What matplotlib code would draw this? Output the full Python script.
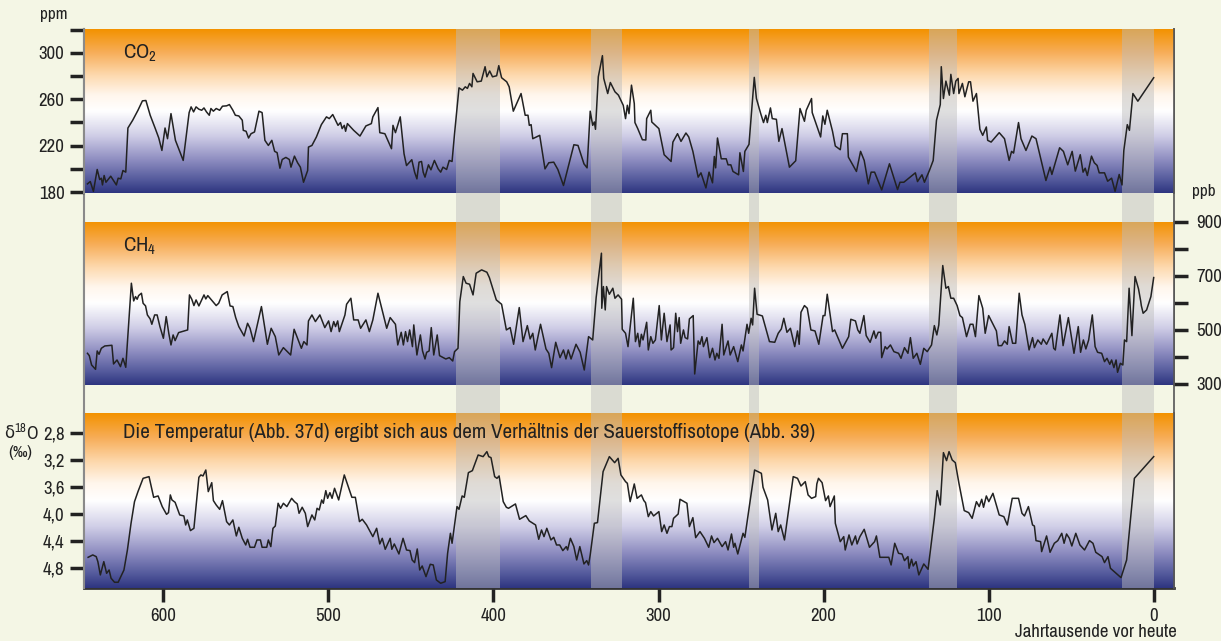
import matplotlib
matplotlib.use("Agg")
import matplotlib.pyplot as plt
import matplotlib.font_manager as fm
import numpy as np
from matplotlib.colors import LinearSegmentedColormap

# the original uses a condensed sans; take a narrow one if installed
narrow = None
for f in fm.fontManager.ttflist:
    if 'Narrow' in f.name or 'Condensed' in f.name:
        narrow = f.name
        break
dejavu_cond = any(f.name == 'DejaVu Sans' and 'condensed' in str(f.stretch) for f in fm.fontManager.ttflist)
if narrow:
    plt.rcParams['font.family'] = [narrow, 'DejaVu Sans']
elif dejavu_cond:
    plt.rcParams['font.family'] = ['DejaVu Sans']
    plt.rcParams['font.stretch'] = 'condensed'
else:
    plt.rcParams['font.family'] = ['Roboto', 'DejaVu Sans']

# interglacial bands (ky before present)
band_start = [423, 341, 245, 136, 19]
band_end = [396, 322, 239, 119, 0]

x_ticks = [600, 500, 400, 300, 200, 100, 0]

# CO2 (ppm)
co2_age = [646.0, 644.3, 642.4, 640.1, 638.6, 637.6, 636.9, 635.9, 634.8, 632.9,
           631.9, 630.2, 628.5, 627.4, 625.8, 624.5, 622.8, 621.5, 618.6, 615.4,
           612.7, 610.6, 608.0, 604.9, 602.8, 600.9, 599.0, 597.5, 595.4, 592.7,
           588.0, 585.7, 584.4, 583.2, 581.7, 580.2, 578.5, 576.8, 575.4, 573.9,
           572.2, 571.2, 569.7, 568.0, 565.9, 564.2, 561.7, 560.0, 557.9, 556.4,
           554.3, 552.2, 551.6, 549.9, 548.4, 546.9, 544.8, 542.1, 540.2, 538.5,
           536.4, 534.3, 532.6, 531.1, 529.4, 528.0, 525.8, 523.7, 522.7, 520.6,
           518.7, 517.0, 515.1, 512.6, 512.1, 510.0, 507.3, 504.3, 501.2, 499.5,
           497.4, 495.7, 494.2, 492.7, 491.7, 490.4, 489.6, 488.5, 484.7, 480.9,
           477.3, 474.0, 473.1, 470.0, 468.9, 465.8, 461.8, 460.9, 459.4, 456.5,
           454.2, 452.7, 449.5, 447.8, 446.4, 445.1, 443.6, 442.6, 441.5, 439.4,
           437.9, 435.8, 433.5, 432.0, 430.6, 428.4, 426.8, 425.1, 423.6, 420.9,
           418.8, 417.1, 415.8, 414.5, 413.1, 412.4, 409.9, 407.4, 405.1, 404.0,
           402.3, 400.6, 398.1, 396.8, 395.1, 392.0, 390.5, 388.0, 383.3, 380.8,
           379.1, 378.3, 377.2, 376.2, 372.0, 368.8, 366.5, 363.5, 361.0, 357.6,
           351.3, 348.8, 345.2, 343.3, 341.4, 339.9, 338.9, 338.2, 336.5, 334.0,
           333.2, 330.8, 329.2, 326.4, 324.3, 321.4,
           320.0, 318.9, 317.9, 316.4, 314.7, 314.3, 312.6, 309.8, 307.7, 307.2,
           304.7, 304.1, 299.8, 296.6, 292.4, 291.3, 288.5, 286.4, 283.4, 281.7,
           279.2, 276.0, 274.3, 271.3, 269.4, 267.3, 266.2, 265.4, 264.3, 262.0,
           259.0, 257.9, 256.2, 254.9, 251.5, 250.7, 248.6, 247.7, 245.2, 242.0,
           240.7, 238.1, 236.4, 235.0, 234.1, 232.2, 231.1, 228.6, 227.1, 225.2,
           220.7, 216.9, 214.3, 211.6, 210.5, 207.3, 206.9, 204.1, 201.8, 200.5,
           199.2, 197.8, 194.6, 192.9, 189.9, 188.6, 185.6, 185.0, 180.1, 177.6,
           175.4, 172.9, 171.2, 169.1, 164.8, 160.1, 155.2, 153.7, 151.4, 144.4,
           143.1, 140.4, 138.9, 135.9, 133.6, 131.6, 129.3, 128.7, 127.4, 125.9,
           123.8, 122.9, 121.2, 119.9, 118.5, 118.0, 115.9, 114.4, 112.1, 111.0,
           109.5, 107.4, 105.3, 103.6, 101.4, 100.6, 98.5, 93.6, 90.4, 87.6,
           86.1, 84.9, 81.9, 80.4, 77.4, 73.8, 71.3, 65.3, 62.8, 61.7,
           57.0, 54.7, 52.1, 49.4, 47.5, 44.5, 42.8, 41.5, 40.2, 37.7,
           36.0, 34.3, 33.0, 29.8, 27.9, 25.5, 23.4, 20.9, 19.2, 18.1,
           16.0, 14.7, 12.6, 9.6, 0.0]
co2_ppm = [187.1, 189.1, 180.7, 199.5, 190.8, 192.0, 186.2, 194.3, 188.5, 192.0,
           193.7, 190.0, 186.2, 192.0, 191.4, 198.6, 197.2, 235.2, 241.9, 250.5,
           258.6, 258.9, 246.2, 234.7, 226.6, 215.9, 235.2, 226.0, 247.6, 224.6,
           207.3, 233.2, 248.5, 253.4, 249.1, 253.4, 251.4, 250.5, 252.5, 249.1,
           246.2, 252.0, 249.7, 252.0, 250.5, 254.0, 254.3, 255.4, 250.5, 246.2,
           245.6, 241.9, 233.2, 232.4, 226.6, 230.3, 231.8, 249.7, 248.5, 224.6,
           220.2, 224.6, 215.1, 214.0, 200.6, 208.1, 209.9, 208.1, 201.5, 211.0,
           205.3, 201.5, 188.5, 198.6, 218.8, 220.2, 227.5, 238.1, 244.8, 243.3,
           246.8, 241.9, 237.5, 239.9, 234.7, 237.5, 232.4, 239.0, 233.2, 228.3,
           237.0, 239.0, 244.8, 252.8, 231.2, 230.3, 217.4, 237.5, 231.2, 244.8,
           213.0, 202.9, 207.9, 197.2, 191.4, 205.8, 206.4, 197.2, 192.9, 203.5,
           199.2, 207.3, 200.0, 197.2, 201.5, 199.5, 207.3, 206.4, 230.3, 269.8,
           267.8, 270.7, 269.3, 273.6, 270.7, 282.2, 275.0, 275.6, 288.0, 279.3,
           284.3, 279.3, 280.2, 288.9, 278.5, 275.0, 270.7, 249.7, 264.9, 246.2,
           246.2, 237.5, 238.1, 226.0, 228.9, 200.0, 205.3, 205.8, 199.5, 185.7,
           220.8, 220.2, 204.4, 200.9, 249.7, 237.5, 240.4, 234.1, 279.3, 297.5,
           277.9, 264.9, 274.4, 266.4, 263.5, 254.8,
           243.3, 254.8, 247.6, 272.1, 256.3, 239.9, 234.7, 225.1, 224.9, 243.3,
           250.5, 240.4, 234.7, 212.2, 206.4, 223.1, 230.3, 223.7, 230.9, 227.5,
           215.1, 192.9, 196.6, 183.6, 197.2, 188.0, 210.7, 200.9, 226.6, 208.7,
           208.7, 203.5, 203.5, 197.8, 194.9, 213.9, 197.8, 215.1, 221.1, 278.8,
           260.6, 247.6, 239.9, 246.2, 239.9, 252.5, 243.3, 242.7, 223.7, 234.7,
           201.5, 207.0, 252.0, 241.0, 250.5, 260.6, 248.5, 237.0, 227.5, 245.6,
           238.4, 250.5, 232.4, 219.7, 216.5, 230.3, 230.3, 210.2, 197.8, 215.1,
           207.3, 187.1, 197.2, 197.2, 181.9, 204.4, 182.2, 188.5, 188.5, 196.6,
           189.1, 194.9, 188.5, 198.6, 207.3, 241.9, 255.4, 288.0, 260.6, 275.6,
           263.5, 281.4, 264.9, 275.6, 277.9, 264.9, 273.6, 262.1, 275.0, 275.0,
           258.3, 264.9, 234.1, 228.9, 236.1, 224.6, 223.1, 231.2, 226.0, 207.3,
           215.1, 213.6, 239.9, 226.0, 215.9, 228.3, 226.0, 190.0, 201.5, 195.2,
           218.2, 215.1, 203.5, 215.1, 198.1, 212.2, 197.2, 200.6, 194.3, 211.0,
           205.3, 203.0, 196.6, 196.6, 189.4, 192.0, 180.7, 195.2, 186.2, 215.9,
           238.1, 233.2, 264.9, 258.3, 278.5]

# CH4 (ppb)
ch4_age = [646.0, 644.9, 643.5, 641.1, 640.1, 639.0, 637.6, 635.5, 631.2, 630.2,
           628.1, 626.0, 624.5, 622.8, 619.4, 618.0, 616.9, 615.9, 615.0, 613.3,
           612.3, 610.8, 609.7, 608.0, 607.0, 605.3, 603.8, 602.1, 600.0, 598.3,
           596.7, 595.4, 594.1, 592.9, 590.8, 585.3, 584.2, 582.8, 581.5, 580.2,
           578.5, 575.4, 574.3, 573.1, 568.0, 566.5, 564.4, 561.3, 559.6, 557.9,
           556.2, 554.3, 551.1, 549.0, 547.5, 545.4, 540.6, 537.0, 534.7, 532.2,
           530.1, 527.3, 522.9, 520.8, 516.4, 514.9, 513.0, 512.1, 510.0, 507.9,
           505.2, 502.2, 499.9, 498.4, 496.8, 495.7, 494.4, 493.4, 490.0, 489.0,
           486.4, 484.7, 482.0, 480.5, 477.3, 475.2, 473.1, 470.0, 464.7, 462.6,
           459.4, 458.0, 455.9, 454.6, 453.3, 452.1, 450.8, 449.1, 448.3, 446.4,
           444.3, 443.0, 441.5, 440.5, 439.0, 437.7, 436.2, 434.1, 432.7, 428.9,
           426.8, 424.7, 423.6, 421.5, 420.4, 418.3, 416.6, 414.5, 412.4, 410.5,
           407.2, 404.0, 402.5, 398.3, 395.1, 392.2, 389.9, 387.8, 384.4, 382.1,
           379.5, 377.8, 376.2, 374.7, 371.5, 368.2, 366.5, 364.8, 362.3, 359.7,
           357.6, 356.1, 354.7, 353.0, 350.0, 347.5, 345.0, 342.4, 339.9, 337.8,
           334.6, 334.4, 333.4, 332.3, 331.5, 329.8, 327.7, 326.4, 324.5, 322.4,
           322.0,
           320.0, 318.5, 315.3, 314.0, 312.6, 311.5, 310.4, 309.4, 307.2, 306.2,
           304.7, 303.4, 301.9, 299.6, 298.3, 296.6, 294.9, 293.0, 292.4, 290.9,
           289.6, 288.5, 287.5, 286.6, 284.9, 283.9, 282.4, 281.3, 279.0, 278.1,
           276.0, 274.9, 273.7, 272.8, 270.7, 269.0, 267.3, 265.8, 264.7, 263.4,
           261.5, 260.5, 257.9, 256.6, 254.5, 252.0, 249.8, 248.8, 246.4, 245.4,
           243.9, 243.0, 241.8, 240.3, 237.1, 232.8, 229.6, 227.5, 225.6, 224.1,
           222.2, 220.1, 217.5, 215.8, 214.8, 213.7, 211.6, 209.9, 207.7, 205.2,
           202.9, 200.3, 199.2, 197.8, 194.6, 193.3, 188.6, 184.8, 183.5, 180.7,
           179.3, 178.0, 175.6, 174.2, 171.8, 169.5, 168.4, 166.9, 165.4, 164.8,
           162.7, 161.6, 159.5, 157.4, 154.6, 153.1, 151.0, 148.9, 147.4, 145.7,
           143.5, 141.4, 139.3, 137.2, 134.6, 132.9, 131.4, 130.2, 127.8, 125.9,
           124.4, 122.9, 121.2, 119.1, 117.4, 115.9, 113.4, 111.2, 109.5, 108.0,
           105.9, 103.6, 102.1, 100.0, 95.3, 94.2, 92.1, 90.4, 88.7, 87.6,
           85.5, 83.6, 81.5, 79.8, 78.1, 75.5, 73.4, 72.3, 70.2, 68.1,
           67.0, 64.9, 61.7, 60.6, 59.6, 56.8, 54.9, 51.7, 48.3, 45.7,
           44.3, 42.6, 41.1, 39.4, 37.2, 35.5, 34.0, 31.5, 29.8, 28.3,
           26.6, 25.5, 24.1, 22.8, 21.9, 20.2, 18.7, 17.7, 16.4, 14.9,
           13.2, 11.3, 9.2, 7.9, 7.5, 6.4, 4.3, 1.7, 0.0]
ch4_ppb = [413.1, 404.5, 369.9, 353.9, 421.7, 409.4, 431.6, 440.2, 442.7, 373.6,
           388.4, 363.8, 394.6, 361.3, 672.0, 606.6, 622.6, 612.8, 626.3, 635.0,
           598.0, 588.1, 554.8, 540.1, 520.3, 554.8, 554.8, 511.7, 468.6, 548.7,
           485.8, 443.9, 480.9, 459.9, 489.5, 499.4, 628.8, 612.8, 589.4, 610.3,
           588.1, 628.8, 614.0, 626.3, 589.4, 598.0, 628.8, 641.1, 588.1, 585.7,
           545.0, 511.7, 477.2, 524.0, 505.5, 456.3, 585.7, 446.4, 505.5, 474.7,
           406.9, 434.0, 406.9, 501.8, 431.6, 456.3, 443.9, 532.7, 554.8, 530.2,
           554.8, 508.0, 532.7, 493.2, 530.2, 511.7, 532.7, 493.2, 554.8, 594.3,
           616.5, 536.4, 536.4, 505.5, 536.4, 493.2, 536.4, 635.0, 505.5, 545.0,
           520.3, 443.9, 490.7, 443.9, 493.2, 456.3, 499.4, 437.7, 517.9, 406.9,
           480.9, 421.7, 392.1, 416.8, 421.7, 508.0, 406.9, 480.9, 404.5, 392.1,
           397.1, 384.7, 419.2, 431.6, 604.1, 696.6, 672.0, 668.3, 628.8, 708.9,
           721.3, 712.6, 692.9, 610.3, 594.3, 499.4, 508.0, 446.4, 582.0, 456.3,
           515.4, 466.1, 487.0, 425.4, 520.3, 429.1, 413.1, 360.1, 453.8, 397.1,
           425.4, 392.1, 425.4, 392.1, 446.4, 416.8, 351.4, 474.7, 462.4, 619.0,
           782.9, 579.5, 659.6, 573.3, 659.6, 631.3, 653.5, 616.5, 628.8, 612.8,
           501.8,
           487.0, 437.7, 616.5, 456.3, 487.0, 437.7, 483.3, 462.4, 527.7, 425.4,
           474.7, 450.1, 462.4, 589.4, 462.4, 561.0, 456.3, 517.9, 425.4, 434.0,
           561.0, 493.2, 545.0, 450.1, 499.4, 471.0, 466.1, 540.1, 552.4, 336.7,
           458.7, 446.4, 474.7, 437.7, 471.0, 397.1, 431.6, 388.4, 413.1, 394.6,
           520.3, 406.9, 458.7, 406.9, 437.7, 382.3, 443.9, 421.7, 520.3, 487.0,
           542.5, 517.9, 653.5, 557.3, 551.1, 456.3, 453.8, 487.0, 503.1, 542.5,
           490.7, 505.5, 437.7, 495.7, 446.4, 564.7, 589.4, 579.5, 499.4, 495.7,
           446.4, 552.4, 552.4, 631.3, 493.2, 499.4, 431.6, 474.7, 538.8, 532.7,
           499.4, 487.0, 552.4, 478.4, 453.8, 495.7, 468.6, 490.7, 490.7, 397.1,
           437.7, 429.1, 443.9, 419.2, 413.1, 394.6, 434.0, 413.1, 471.0, 394.6,
           413.1, 372.4, 431.6, 419.2, 443.9, 515.4, 480.9, 517.9, 737.3, 653.5,
           659.6, 616.5, 616.5, 589.4, 552.4, 545.0, 474.7, 520.3, 520.3, 474.7,
           626.3, 579.5, 487.0, 552.4, 495.7, 441.4, 441.4, 458.7, 446.4, 511.7,
           450.1, 450.1, 635.0, 554.8, 520.3, 425.4, 471.0, 434.0, 462.4, 446.4,
           466.1, 446.4, 487.0, 431.6, 425.4, 554.8, 441.4, 545.0, 413.1, 511.7,
           416.8, 462.4, 429.1, 462.4, 554.8, 437.7, 416.8, 413.1, 382.3, 394.6,
           372.4, 388.4, 360.1, 388.4, 342.8, 376.1, 369.9, 462.4, 456.3, 653.5,
           478.4, 696.6, 651.0, 606.6, 589.4, 561.0, 573.3, 622.6, 692.9]

# delta 18O (permil)
d18o_age = [645.6, 642.8, 640.7, 639.7, 638.2, 636.1, 634.4, 632.9, 631.7, 629.6,
            627.4, 623.9, 621.8, 619.6, 617.5, 615.4, 612.3, 608.7, 605.9, 603.2,
            600.7, 598.1, 596.9, 595.8, 594.8, 592.9, 590.1, 587.6, 586.5, 585.5,
            583.6, 581.5, 578.5, 577.3, 576.0, 574.3, 572.8, 570.7, 569.7, 568.0,
            565.9, 564.2, 561.7, 560.0, 557.9, 555.8, 554.3, 552.2, 550.1, 549.0,
            547.5, 544.8, 543.3, 541.2, 540.2, 537.4, 536.4, 534.9, 533.6, 532.2,
            530.5, 529.0, 527.3, 525.2, 522.3, 520.6, 518.9, 517.8, 515.9, 514.0,
            512.6, 510.0, 508.3, 506.9, 505.6, 504.1, 503.1, 501.6, 500.5, 499.1,
            497.8, 496.3, 493.8, 490.4, 487.3, 485.8, 483.7, 481.2, 479.5, 476.9,
            473.1, 470.8, 468.9, 467.4, 465.6, 462.6, 461.6, 460.1, 457.3, 454.8,
            452.7, 450.6, 449.3, 447.8, 446.2, 444.7, 443.2, 440.9, 438.3, 436.5,
            434.6, 432.0, 429.3, 427.8, 426.1, 425.1, 423.2, 422.1, 420.9, 419.0,
            417.7, 415.2, 412.8, 409.3, 406.3, 404.0, 402.9, 401.5, 399.3, 397.9,
            396.6, 394.1, 392.2, 390.9, 386.7, 384.2, 380.4, 378.3, 374.5, 372.6,
            370.9, 369.4, 367.7, 365.2, 363.5, 361.8, 359.9, 358.0, 355.9, 355.1,
            353.4, 351.3, 349.6, 347.7, 345.2, 343.5, 342.4, 341.4, 338.9, 337.0,
            333.6, 329.8, 326.6, 324.5, 322.8,
            320.0, 318.9, 317.2, 314.7, 313.0, 310.4, 308.9, 307.9, 306.2, 304.7,
            303.0, 299.8, 298.1, 296.6, 294.9, 293.4, 291.9, 290.9, 288.1, 287.0,
            282.8, 281.3, 279.2, 277.5, 274.9, 272.2, 269.6, 267.9, 266.4, 264.3,
            261.5, 259.4, 257.9, 255.8, 254.5, 253.7, 252.0, 248.8, 247.7, 241.8,
            237.7, 236.7, 233.9, 231.3, 229.0, 227.5, 226.0, 223.7, 218.4, 215.8,
            213.7, 211.1, 209.4, 207.3, 204.8, 204.1, 203.1, 200.9, 198.8, 197.1,
            196.1, 193.5, 192.9, 189.9, 187.8, 186.9, 184.6, 182.9, 180.7, 179.7,
            178.0, 175.4, 172.2, 169.1, 168.0, 165.9, 160.5, 159.1, 156.9, 154.6,
            152.5, 151.0, 148.9, 148.2, 146.7, 145.7, 144.0, 142.3, 139.3, 136.7,
            132.9, 131.2, 129.3, 127.4, 125.5, 124.0, 122.1, 120.2, 118.0, 114.8,
            112.1, 110.0, 107.4, 105.7, 104.2, 103.1, 101.4, 99.9, 97.4, 93.6,
            90.8, 88.7, 85.7, 81.9, 79.8, 78.3, 75.9, 73.4, 72.3, 71.3,
            68.5, 67.9, 64.9, 62.8, 60.2, 58.1, 55.7, 54.3, 52.8, 51.1,
            49.6, 47.2, 44.7, 41.9, 38.9, 36.8, 35.1, 31.3, 29.8, 27.7,
            26.2, 22.8, 19.8, 16.4, 11.7, 0.0]
d18o_val = [4.638, 4.603, 4.628, 4.702, 4.898, 4.702, 4.874, 4.825, 4.947, 5.006,
            5.006, 4.825, 4.530, 4.136, 3.817, 3.669, 3.473, 3.448, 3.753, 3.733,
            3.890, 4.004, 3.979, 3.718, 3.792, 3.827, 4.013, 4.028, 4.161, 4.087,
            4.244, 4.210, 3.458, 3.423, 3.438, 3.350, 3.669, 3.537, 3.802, 3.866,
            3.930, 3.802, 4.112, 4.161, 4.087, 4.323, 4.195, 4.358, 4.456, 4.372,
            4.490, 4.490, 4.382, 4.382, 4.490, 4.490, 4.382, 4.480, 4.210, 4.176,
            3.841, 3.915, 3.841, 3.890, 3.768, 3.817, 3.851, 3.989, 3.900, 3.989,
            4.185, 4.013, 4.087, 3.915, 3.940, 3.792, 3.841, 3.655, 3.768, 3.684,
            3.768, 3.620, 3.792, 3.423, 3.645, 3.753, 3.753, 4.112, 4.077, 4.161,
            4.333, 4.210, 4.441, 4.358, 4.520, 4.358, 4.520, 4.441, 4.589, 4.358,
            4.530, 4.539, 4.677, 4.716, 4.515, 4.825, 4.766, 4.923, 4.741, 4.751,
            4.972, 5.021, 4.997, 4.579, 4.284, 4.431, 4.087, 3.890, 3.930, 3.733,
            3.753, 3.389, 3.360, 3.129, 3.153, 3.079, 3.153, 3.168, 3.448, 3.473,
            3.438, 3.817, 3.900, 3.915, 3.851, 4.077, 4.023, 4.102, 4.161, 4.372,
            4.235, 4.333, 4.210, 4.382, 4.343, 4.456, 4.456, 4.539, 4.480, 4.530,
            4.358, 4.480, 4.677, 4.480, 4.736, 4.687, 4.751, 4.603, 4.136, 4.126,
            3.374, 3.153, 3.242, 3.178, 3.423,
            3.522, 3.546, 3.817, 3.556, 3.768, 3.718, 3.802, 3.831, 4.038, 3.964,
            4.028, 3.964, 4.259, 4.161, 4.284, 4.185, 4.185, 4.063, 3.999, 3.782,
            3.841, 4.185, 4.053, 4.348, 4.259, 4.358, 4.490, 4.323, 4.421, 4.358,
            4.480, 4.407, 4.530, 4.294, 4.490, 4.431, 4.589, 4.284, 4.343, 3.350,
            3.399, 3.605, 3.792, 4.235, 3.989, 4.259, 4.161, 4.382, 3.448, 3.473,
            3.586, 3.522, 3.718, 3.768, 3.743, 3.556, 3.473, 3.537, 3.802, 3.733,
            3.890, 3.733, 4.136, 4.407, 4.333, 4.530, 4.308, 4.456, 4.323, 4.441,
            4.333, 4.225, 4.490, 4.407, 4.323, 4.638, 4.638, 4.751, 4.431, 4.579,
            4.589, 4.687, 4.628, 4.800, 4.667, 4.766, 4.702, 4.898, 4.736, 4.815,
            4.063, 3.655, 3.866, 3.094, 3.212, 3.079, 3.202, 3.242, 3.546, 3.949,
            3.979, 4.063, 3.817, 3.890, 3.782, 3.900, 3.733, 3.817, 3.694, 4.013,
            4.038, 4.161, 3.768, 3.768, 3.989, 4.028, 3.890, 4.161, 4.176, 4.392,
            4.407, 4.554, 4.323, 4.564, 4.431, 4.392, 4.284, 4.431, 4.294, 4.358,
            4.471, 4.284, 4.456, 4.530, 4.392, 4.431, 4.564, 4.628, 4.716, 4.628,
            4.800, 4.874, 4.938, 4.677, 3.473, 3.153]

co2_ticks = [180, 200, 220, 240, 260, 280, 300, 320]
co2_labels = ['180', '', '220', '', '260', '', '300', '']
ch4_ticks = [300, 400, 500, 600, 700, 800, 900]
ch4_labels = ['300', '', '500', '', '700', '', '900']
d18o_ticks = [2.8, 3.2, 3.6, 4.0, 4.4, 4.8]
d18o_labels = ['2,8', '3,2', '3,6', '4,0', '4,4', '4,8']

note = 'Die Temperatur (Abb. 37d) ergibt sich aus dem Verhältnis der Sauerstoffisotope (Abb. 39)'

bg = '#f4f6e5'
ink = '#222222'
grad = LinearSegmentedColormap.from_list('grad', [
    (0.0, '#2e3580'), (0.08, '#545a9c'), (0.2, '#8d8cc0'), (0.35, '#d0cee7'),
    (0.5, '#ffffff'), (0.6, '#fff6ec'), (0.72, '#fdd9ae'), (0.86, '#f7ad58'),
    (1.0, '#f39200')])

fig = plt.figure(figsize=(12.21, 6.41), dpi=100, facecolor=bg)

xlim = (648.1, -12.3)
left, width = 84 / 1221, 1090 / 1221
tick_fs = 13.5

# frame holding the x axis and the bands between the panels
frame = fig.add_axes([left, 1 - 588.3 / 641, width, (588.3 - 29.3) / 641], zorder=0)
frame.set_facecolor('none')
frame.set_xlim(xlim)
frame.set_ylim(0, 1)
for a, b in zip(band_start, band_end):
    frame.axvspan(a, b, color='#bdbdbd', alpha=0.47, lw=0)
frame.spines['top'].set_visible(False)
frame.spines['left'].set_color('#8a8a8a')
frame.spines['left'].set_linewidth(1.5)
frame.spines['right'].set_color('#555555')
frame.spines['right'].set_linewidth(1.2)
frame.spines['bottom'].set_color('#333333')
frame.spines['bottom'].set_linewidth(2)
frame.set_yticks([])
frame.set_xticks(x_ticks)
frame.set_xticklabels([str(t) for t in x_ticks])
frame.tick_params(axis='x', length=10, width=2.5, color=ink, labelsize=tick_fs, pad=4, labelcolor=ink)


def panel(top_px, bottom_px, ages, vals, ylim):
    ax = fig.add_axes([left, 1 - bottom_px / 641, width, (bottom_px - top_px) / 641], zorder=1)
    ax.imshow(np.linspace(0, 1, 256).reshape(-1, 1), cmap=grad, origin='lower', aspect='auto',
              extent=(0, 1, 0, 1), transform=ax.transAxes, zorder=0)
    for a, b in zip(band_start, band_end):
        ax.axvspan(a, b, color='#bdbdbd', alpha=0.47, lw=0, zorder=1)
    ax.plot(ages, vals, color=ink, lw=1.1, zorder=2)
    ax.set_xlim(xlim)
    ax.set_ylim(ylim)
    ax.set_xticks([])
    for s in ['top', 'bottom']:
        ax.spines[s].set_visible(False)
    ax.spines['left'].set_color('#8a8a8a')
    ax.spines['left'].set_linewidth(1.5)
    ax.spines['right'].set_color('#555555')
    ax.spines['right'].set_linewidth(1.2)
    ax.tick_params(axis='y', length=10, width=2.5, color=ink, labelsize=tick_fs, pad=4, labelcolor=ink)
    return ax


ax1 = panel(29.3, 193.3, co2_age, co2_ppm, (179, 320.2))
ax1.set_yticks(co2_ticks)
ax1.set_yticklabels(co2_labels)
ax1.text(0.036, 0.855, 'CO$_\\mathregular{2}$', transform=ax1.transAxes, fontsize=15,
         va='center', color=ink, zorder=3)

ax2 = panel(221.5, 385, ch4_age, ch4_ppb, (296, 900))
ax2.yaxis.tick_right()
ax2.set_yticks(ch4_ticks)
ax2.set_yticklabels(ch4_labels)
ax2.tick_params(axis='y', pad=6)
ax2.text(0.036, 0.85, 'CH$_\\mathregular{4}$', transform=ax2.transAxes, fontsize=15,
         va='center', color=ink, zorder=3)

ax3 = panel(413.3, 588.3, d18o_age, d18o_val, (5.095, 2.514))
ax3.set_yticks(d18o_ticks)
ax3.set_yticklabels(d18o_labels)
t = ax3.text(0.036, 0.893, note, transform=ax3.transAxes, fontsize=14, va='center', color=ink, zorder=3)
# fit the note to the width it has in the original (about 690 px)
fig.canvas.draw()
w = t.get_window_extent().width
t.set_fontsize(min(16, 14 * 690 / w))

fig.text(54 / 1221, 1 - 15 / 641, 'ppm', ha='center', va='center', fontsize=12.5, color=ink)
fig.text(1204 / 1221, 1 - 191 / 641, 'ppb', ha='center', va='center', fontsize=12.5, color=ink)
# delta sign from DejaVu, the narrow font has no Greek
fig.text(14 / 1221, 1 - 433 / 641, 'δ', ha='right', va='center', fontsize=12, color=ink, family='DejaVu Sans')
fig.text(14 / 1221, 1 - 433 / 641, '$^\\mathregular{18}$O', ha='left', va='center', fontsize=13, color=ink)
fig.text(20 / 1221, 1 - 453 / 641, '(‰)', ha='center', va='center', fontsize=12.5, color=ink)
fig.text(1177 / 1221, 1 - 632 / 641, 'Jahrtausende vor heute', ha='right', va='center', fontsize=13.5, color=ink)

fig.savefig('out.png', dpi=100, facecolor=bg)
